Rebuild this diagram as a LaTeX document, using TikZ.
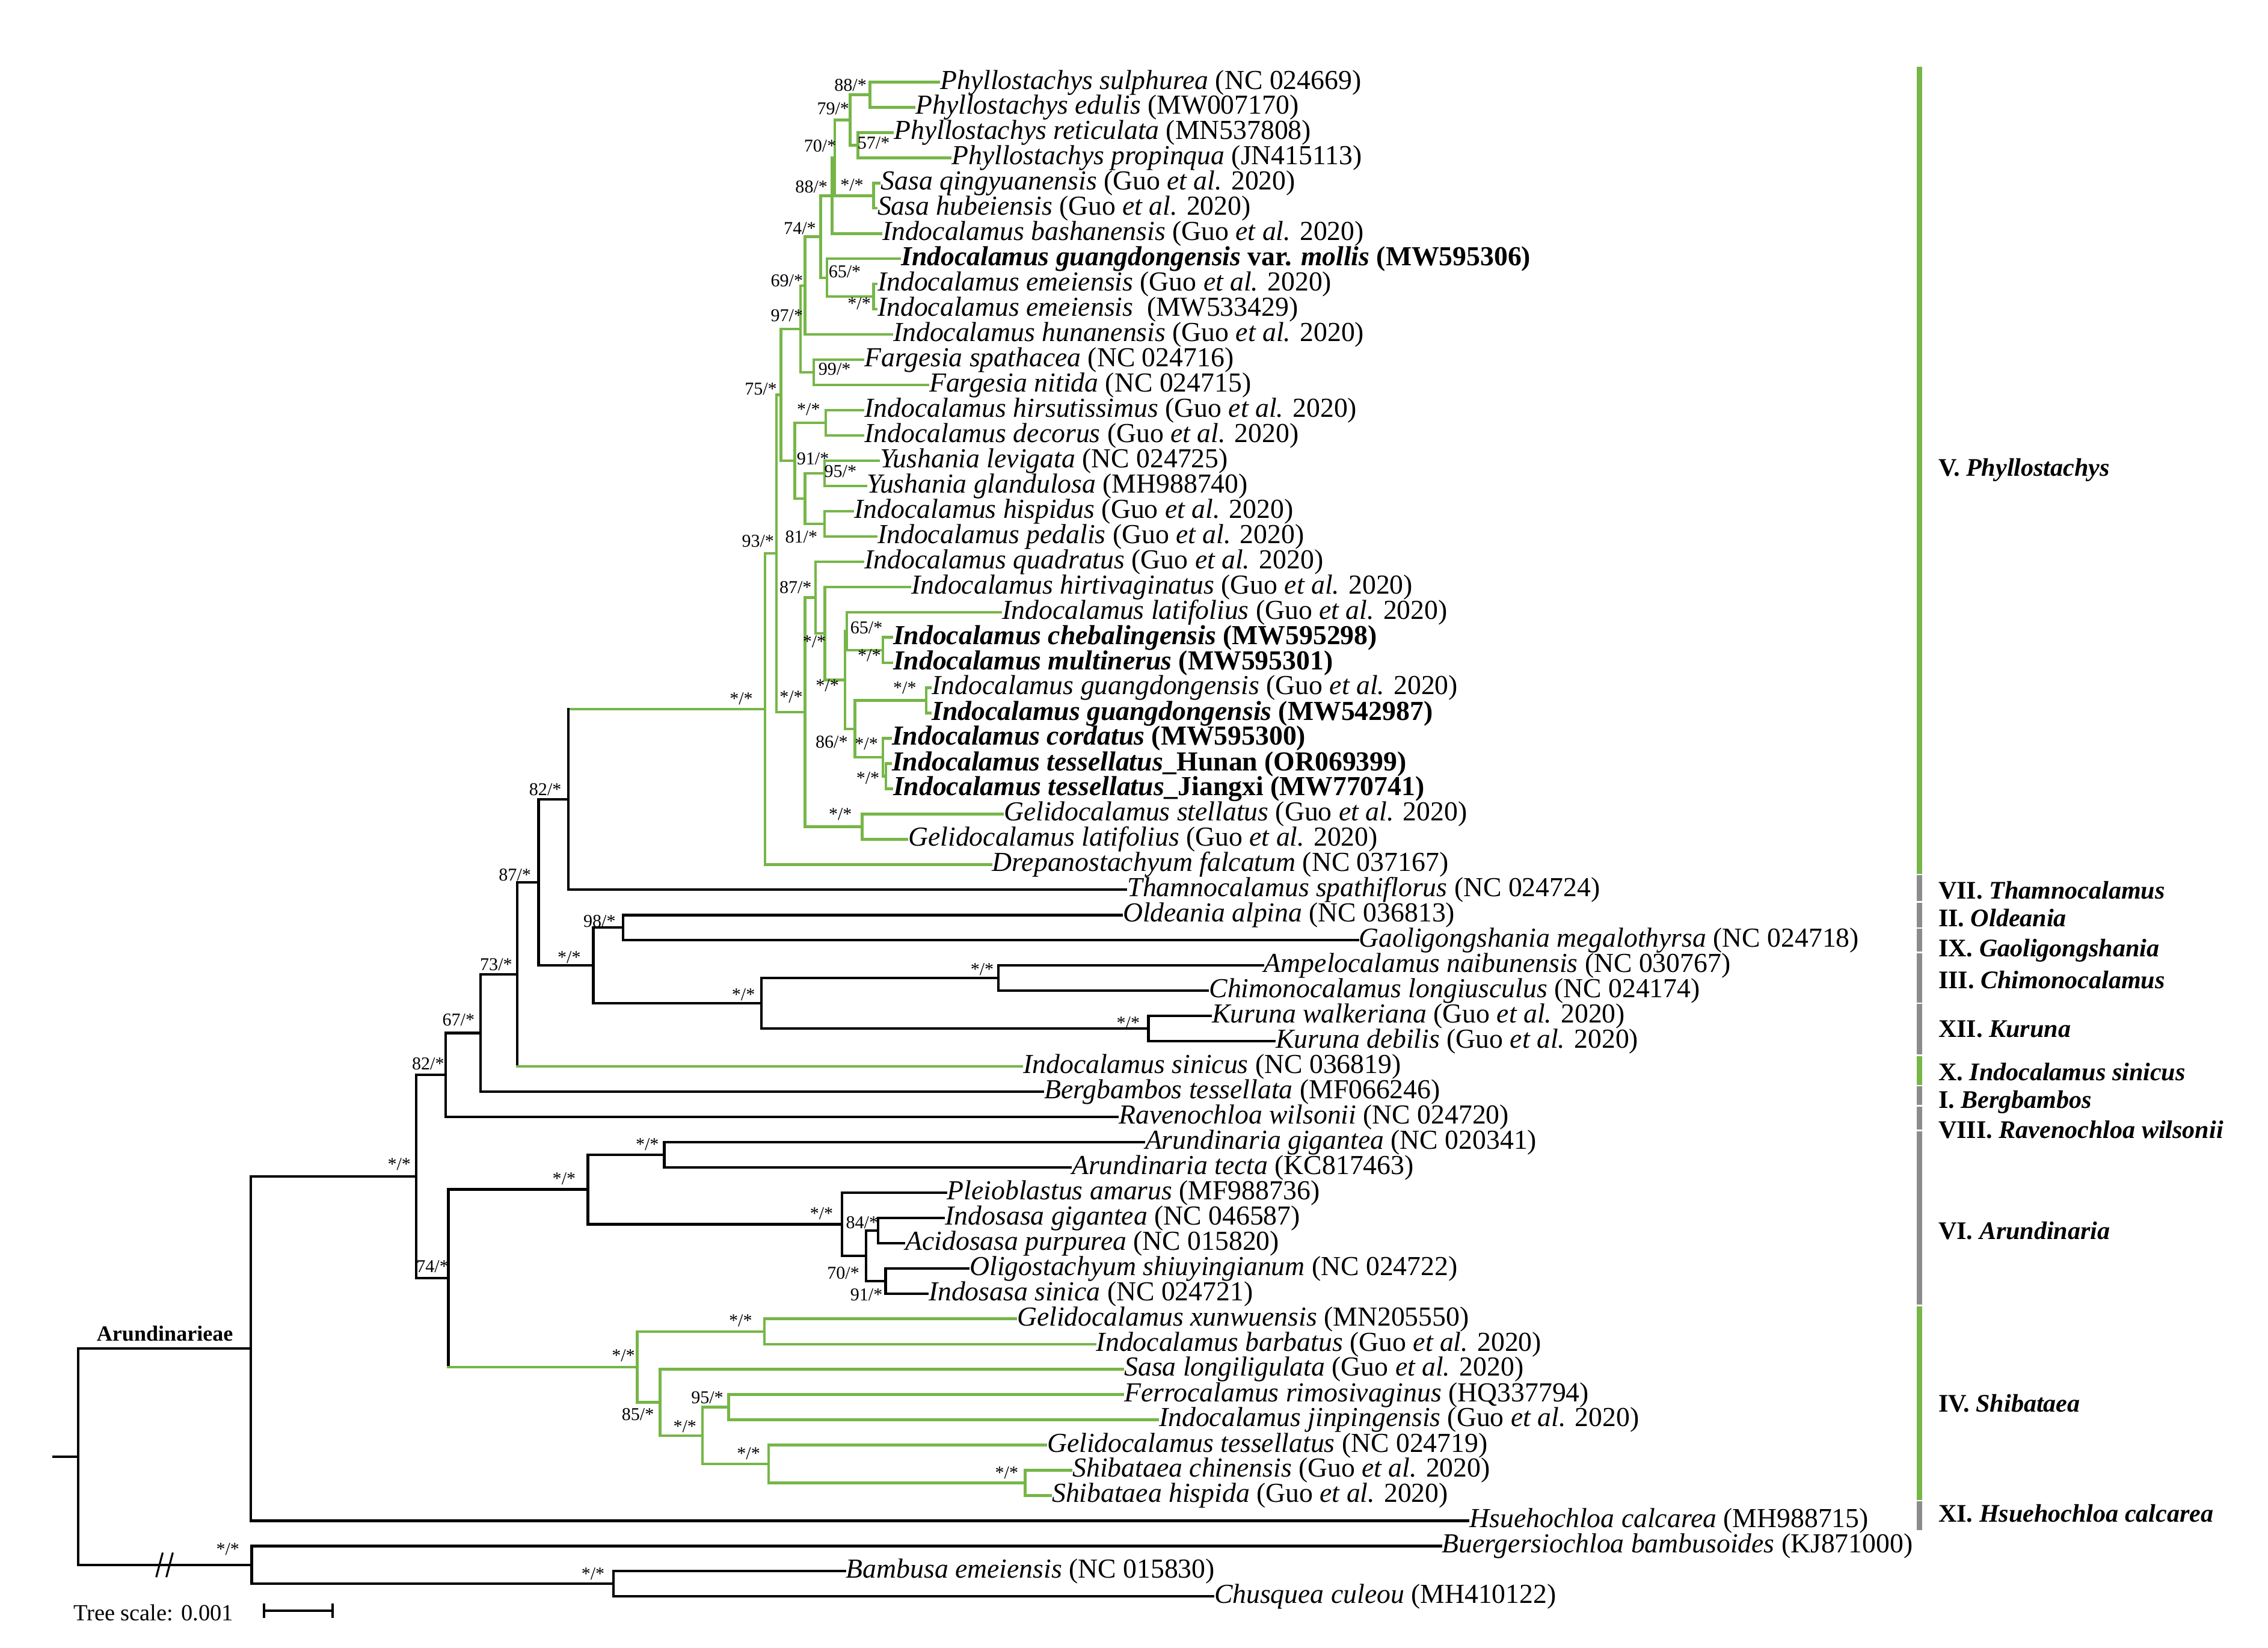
\documentclass[tikz,border=0pt]{standalone}
\usepackage{fontspec}
\setmainfont{Liberation Serif}
\usetikzlibrary{calc}
\definecolor{tgreen}{RGB}{118,182,72}
\definecolor{tgray}{RGB}{140,140,140}
\newcommand\GA{(Guo \textit{et al.} 2020)}
\newcommand\brc[3][br]{\draw[#1] (#2) |- (#3);}
\begin{document}
\begin{tikzpicture}[x=1pt,y=-1pt,line cap=rect,
 br/.style={line width=1.8pt,black},
 gb/.style={line width=1.8pt,tgreen},
 leaf/.style={anchor=west,inner ysep=0pt,inner xsep=0.8pt,font=\fontsize{19}{20}\selectfont,text height=13.7pt,text depth=4.2pt},
 bs/.style={inner sep=0pt,font=\fontsize{12.5}{13}\selectfont},
 clab/.style={anchor=west,inner sep=0pt,font=\fontsize{17.5}{18}\selectfont\bfseries,text height=12.5pt,text depth=3.8pt},
 cbar/.style={line width=3.8pt,line cap=butt}]
\fill[white] (0,0) rectangle (1568,1139);
\useasboundingbox (0,0) rectangle (1568,1139);

% ---------- leaves ----------
\node[leaf] (L1) at (649,56.8) {\textit{Phyllostachys sulphurea} (NC 024669)};
\node[leaf] (L2) at (632,74.2) {\textit{Phyllostachys edulis} (MW007170)};
\node[leaf] (L3) at (617,91.7) {\textit{Phyllostachys reticulata} (MN537808)};
\node[leaf] (L4) at (657,109.1) {\textit{Phyllostachys propinqua} (JN415113)};
\node[leaf] (L5) at (608,126.6) {\textit{Sasa qingyuanensis} \GA};
\node[leaf] (L6) at (605.7,144.0) {\textit{Sasa hubeiensis} \GA};
\node[leaf] (L7) at (609,161.5) {\textit{Indocalamus bashanensis} \GA};
\node[leaf] (L8) at (622,178.9) {\bfseries\textit{Indocalamus guangdongensis} var. \textit{mollis} (MW595306)};
\node[leaf] (L9) at (605.7,196.4) {\textit{Indocalamus emeiensis} \GA};
\node[leaf] (L10) at (605.7,213.8) {\textit{Indocalamus emeiensis}\ \ (MW533429)};
\node[leaf] (L11) at (616.5,231.3) {\textit{Indocalamus hunanensis} \GA};
\node[leaf] (L12) at (596.7,248.7) {\textit{Fargesia spathacea} (NC 024716)};
\node[leaf] (L13) at (641.5,266.1) {\textit{Fargesia nitida} (NC 024715)};
\node[leaf] (L14) at (596.7,283.6) {\textit{Indocalamus hirsutissimus} \GA};
\node[leaf] (L15) at (596.7,301.0) {\textit{Indocalamus decorus} \GA};
\node[leaf] (L16) at (607.5,318.5) {\textit{Yushania levigata} (NC 024725)};
\node[leaf] (L17) at (598.5,335.9) {\textit{Yushania glandulosa} (MH988740)};
\node[leaf] (L18) at (589.7,353.4) {\textit{Indocalamus hispidus} \GA};
\node[leaf] (L19) at (605.7,370.8) {\textit{Indocalamus pedalis} \GA};
\node[leaf] (L20) at (596.7,388.3) {\textit{Indocalamus quadratus} \GA};
\node[leaf] (L21) at (629,405.7) {\textit{Indocalamus hirtivaginatus} \GA};
\node[leaf] (L22) at (692,423.2) {\textit{Indocalamus latifolius} \GA};
\node[leaf] (L23) at (616.5,440.6) {\bfseries\textit{Indocalamus chebalingensis} (MW595298)};
\node[leaf] (L24) at (616.5,458.1) {\bfseries\textit{Indocalamus multinerus} (MW595301)};
\node[leaf] (L25) at (643.3,475.5) {\textit{Indocalamus guangdongensis} \GA};
\node[leaf] (L26) at (643.3,493.0) {\bfseries\textit{Indocalamus guangdongensis} (MW542987)};
\node[leaf] (L27) at (615.7,510.4) {\bfseries\textit{Indocalamus cordatus} (MW595300)};
\node[leaf] (L28) at (615.7,527.9) {\bfseries\textit{Indocalamus tessellatus}\_Hunan (OR069399)};
\node[leaf] (L29) at (616.5,545.3) {\bfseries\textit{Indocalamus tessellatus}\_Jiangxi (MW770741)};
\node[leaf] (L30) at (693,562.8) {\textit{Gelidocalamus stellatus} \GA};
\node[leaf] (L31) at (627,580.2) {\textit{Gelidocalamus latifolius} \GA};
\node[leaf] (L32) at (685,597.7) {\textit{Drepanostachyum falcatum} (NC 037167)};
\node[leaf] (L33) at (778.5,615.1) {\textit{Thamnocalamus spathiflorus} (NC 024724)};
\node[leaf] (L34) at (775.3,632.6) {\textit{Oldeania alpina} (NC 036813)};
\node[leaf] (L35) at (938.6,650.0) {\textit{Gaoligongshania megalothyrsa} (NC 024718)};
\node[leaf] (L36) at (873,667.5) {\textit{Ampelocalamus naibunensis} (NC 030767)};
\node[leaf] (L37) at (835,684.9) {\textit{Chimonocalamus longiusculus} (NC 024174)};
\node[leaf] (L38) at (837,702.3) {\textit{Kuruna walkeriana} \GA};
\node[leaf] (L39) at (881,719.8) {\textit{Kuruna debilis} \GA};
\node[leaf] (L40) at (706.4,737.2) {\textit{Indocalamus sinicus} (NC 036819)};
\node[leaf] (L41) at (721,754.7) {\textit{Bergbambos tessellata} (MF066246)};
\node[leaf] (L42) at (772.6,772.1) {\textit{Ravenochloa wilsonii} (NC 024720)};
\node[leaf] (L43) at (790.7,789.6) {\textit{Arundinaria gigantea} (NC 020341)};
\node[leaf] (L44) at (740,807.0) {\textit{Arundinaria tecta} (KC817463)};
\node[leaf] (L45) at (653.8,824.5) {\textit{Pleioblastus amarus} (MF988736)};
\node[leaf] (L46) at (652.5,841.9) {\textit{Indosasa gigantea} (NC 046587)};
\node[leaf] (L47) at (625,859.4) {\textit{Acidosasa purpurea} (NC 015820)};
\node[leaf] (L48) at (669.5,876.8) {\textit{Oligostachyum shiuyingianum} (NC 024722)};
\node[leaf] (L49) at (641,894.3) {\textit{Indosasa sinica} (NC 024721)};
\node[leaf] (L50) at (702.2,911.7) {\textit{Gelidocalamus xunwuensis} (MN205550)};
\node[leaf] (L51) at (757,929.2) {\textit{Indocalamus barbatus} \GA};
\node[leaf] (L52) at (776.3,946.6) {\textit{Sasa longiligulata} \GA};
\node[leaf] (L53) at (776.3,964.1) {\textit{Ferrocalamus rimosivaginus} (HQ337794)};
\node[leaf] (L54) at (800.3,981.5) {\textit{Indocalamus jinpingensis} \GA};
\node[leaf] (L55) at (723,999.0) {\textit{Gelidocalamus tessellatus} (NC 024719)};
\node[leaf] (L56) at (740.6,1016.4) {\textit{Shibataea chinensis} \GA};
\node[leaf] (L57) at (726.3,1033.9) {\textit{Shibataea hispida} \GA};
\node[leaf] (L58) at (1015,1051.3) {\textit{Hsuehochloa calcarea} (MH988715)};
\node[leaf] (L59) at (996,1068.8) {\textit{Buergersiochloa bambusoides} (KJ871000)};
\node[leaf] (L60) at (584,1086.2) {\textit{Bambusa emeiensis} (NC 015830)};
\node[leaf] (L61) at (838.5,1103.6) {\textit{Chusquea culeou} (MH410122)};

% ---------- internal nodes ----------
\coordinate (A) at (601.4,65.5);
\coordinate (B) at (593.2,100.4);
\coordinate (C) at (587.8,82.95);
\coordinate (D) at (603.9,135.3);
\coordinate (E) at (577.1,109.1);
\coordinate (Q) at (575.3,135.3);
\coordinate (M2) at (603.9,205.1);
\coordinate (M) at (571.7,192.0);
\coordinate (V7) at (567.4,163.65);
\coordinate (V6) at (556.5,197.5);
\coordinate (F) at (562.7,257.4);
\coordinate (V4) at (553.5,227.45);
\coordinate (H) at (571,292.3);
\coordinate (Y) at (570,327.2);
\coordinate (P) at (570,362.1);
\coordinate (V8) at (556.5,344.65);
\coordinate (V5) at (549.5,318.5);
\coordinate (V2) at (539.9,273.0);
\coordinate (V14) at (610.5,449.35);
\coordinate (V12) at (585.5,436.3);
\coordinate (G2) at (640.3,484.25);
\coordinate (V16) at (612.5,536.6);
\coordinate (V15) at (610.5,523.5);
\coordinate (V13) at (591,503.9);
\coordinate (V11) at (584.2,470.1);
\coordinate (V10) at (570.3,437.9);
\coordinate (V9) at (563.8,413.1);
\coordinate (GL) at (596,571.5);
\coordinate (V3) at (556.5,492.3);
\coordinate (V1) at (536.7,382.65);
\coordinate (VR) at (528.8,490.2);
\coordinate (N7) at (392.8,552.65);
\coordinate (N9) at (430.7,641.3);
\coordinate (N11) at (690.2,676.2);
\coordinate (N12) at (794,711.05);
\coordinate (N10) at (526.4,693.6);
\coordinate (N8) at (410.2,667.45);
\coordinate (N6) at (372.4,610.05);
\coordinate (N5) at (357.5,673.6);
\coordinate (N4) at (332.3,714.15);
\coordinate (N2) at (308.2,743.1);
\coordinate (N14) at (459.2,798.3);
\coordinate (N17) at (607,850.65);
\coordinate (N18) at (612.2,885.55);
\coordinate (N16) at (598.7,868.1);
\coordinate (N15) at (582,846.3);
\coordinate (N13) at (406.5,822.3);
\coordinate (S1) at (528.5,920.45);
\coordinate (S4) at (503.7,972.8);
\coordinate (S6) at (708.7,1025.15);
\coordinate (S5) at (531.3,1012.1);
\coordinate (S3) at (485.7,992.45);
\coordinate (S2) at (456.4,969.5);
\coordinate (S0) at (440.5,945.0);
\coordinate (N3) at (310,883.65);
\coordinate (N1) at (287.7,813.4);
\coordinate (AR) at (173.5,932.35);
\coordinate (BC) at (424,1094.9);
\coordinate (OG) at (174,1081.85);
\coordinate (R) at (54,1007.1);
\coordinate (R0) at (37,1007.1);

% ---------- V clade (green) ----------
\brc[gb]{A}{L1.west}\brc[gb]{A}{L2.west}
\brc[gb]{B}{L3.west}\brc[gb]{B}{L4.west}
\brc[gb]{C}{A}\brc[gb]{C}{B}
\brc[gb]{D}{L5.west}\brc[gb]{D}{L6.west}
\brc[gb]{E}{C}\brc[gb]{E}{D}
\brc[gb]{Q}{E}\brc[gb]{Q}{L7.west}
\brc[gb]{M2}{L9.west}\brc[gb]{M2}{L10.west}
\brc[gb]{M}{L8.west}\brc[gb]{M}{M2}
\brc[gb]{V7}{Q}\brc[gb]{V7}{M}
\brc[gb]{V6}{V7}\brc[gb]{V6}{L11.west}
\brc[gb]{F}{L12.west}\brc[gb]{F}{L13.west}
\brc[gb]{V4}{V6}\brc[gb]{V4}{F}
\brc[gb]{H}{L14.west}\brc[gb]{H}{L15.west}
\brc[gb]{Y}{L16.west}\brc[gb]{Y}{L17.west}
\brc[gb]{P}{L18.west}\brc[gb]{P}{L19.west}
\brc[gb]{V8}{Y}\brc[gb]{V8}{P}
\brc[gb]{V5}{H}\brc[gb]{V5}{V8}
\brc[gb]{V2}{V4}\brc[gb]{V2}{V5}
\brc[gb]{V14}{L23.west}\brc[gb]{V14}{L24.west}
\brc[gb]{V12}{L22.west}\brc[gb]{V12}{V14}
\brc[gb]{G2}{L25.west}\brc[gb]{G2}{L26.west}
\brc[gb]{V16}{L28.west}\brc[gb]{V16}{L29.west}
\brc[gb]{V15}{L27.west}\brc[gb]{V15}{V16}
\brc[gb]{V13}{G2}\brc[gb]{V13}{V15}
\brc[gb]{V11}{V12}\brc[gb]{V11}{V13}
\brc[gb]{V10}{L21.west}\brc[gb]{V10}{V11}
\brc[gb]{V9}{L20.west}\brc[gb]{V9}{V10}
\brc[gb]{GL}{L30.west}\brc[gb]{GL}{L31.west}
\brc[gb]{V3}{V9}\brc[gb]{V3}{GL}
\brc[gb]{V1}{V2}\brc[gb]{V1}{V3}
\brc[gb]{VR}{V1}\brc[gb]{VR}{L32.west}
\draw[gb] (N7 |- VR) -- (VR);
\draw[br] (N7) -- (N7 |- VR);
\brc{N7}{L33.west}

% ---------- black backbone ----------
\brc{N9}{L34.west}\brc{N9}{L35.west}
\brc{N11}{L36.west}\brc{N11}{L37.west}
\brc{N12}{L38.west}\brc{N12}{L39.west}
\brc{N10}{N11}\brc{N10}{N12}
\brc{N8}{N9}\brc{N8}{N10}
\brc{N6}{N7}\brc{N6}{N8}
\brc{N5}{N6}
\draw[br] (N5) -- (N5 |- L40.west);
\draw[gb] (N5 |- L40.west) -- (L40.west);
\brc{N4}{N5}\brc{N4}{L41.west}
\brc{N2}{N4}\brc{N2}{L42.west}
\brc{N14}{L43.west}\brc{N14}{L44.west}
\brc{N17}{L46.west}\brc{N17}{L47.west}
\brc{N18}{L48.west}\brc{N18}{L49.west}
\brc{N16}{N17}\brc{N16}{N18}
\brc{N15}{L45.west}\brc{N15}{N16}
\brc{N13}{N14}\brc{N13}{N15}
% Shibataea clade (green)
\brc[gb]{S1}{L50.west}\brc[gb]{S1}{L51.west}
\brc[gb]{S4}{L53.west}\brc[gb]{S4}{L54.west}
\brc[gb]{S6}{L56.west}\brc[gb]{S6}{L57.west}
\brc[gb]{S5}{L55.west}\brc[gb]{S5}{S6}
\brc[gb]{S3}{S4}\brc[gb]{S3}{S5}
\brc[gb]{S2}{L52.west}\brc[gb]{S2}{S3}
\brc[gb]{S0}{S1}\brc[gb]{S0}{S2}
\brc{N3}{N13}
\draw[br] (N3) -- (N3 |- S0);
\draw[gb] (N3 |- S0) -- (S0);
\brc{N1}{N2}\brc{N1}{N3}
\brc{AR}{N1}\brc{AR}{L58.west}
\brc{BC}{L60.west}\brc{BC}{L61.west}
\brc{OG}{L59.west}\brc{OG}{BC}
\brc{R}{AR}\brc{R}{OG}
\draw[br] (R0) -- (R);
% break mark
\coordinate (brk) at (114,1081.85);
\draw[line width=1.3pt,line cap=butt] ($(brk)+(-6,8.5)$) -- ($(brk)+(-1.5,-8.5)$);
\draw[line width=1.3pt,line cap=butt] ($(brk)+(1,8.5)$) -- ($(brk)+(5.5,-8.5)$);

% ---------- support values ----------
\node[bs] (lA) at (588,59) {88/*};
\node[bs] (lC) at (576,75) {79/*};
\node[bs] (lE) at (567,101) {70/*};
\node[bs] (lB) at (604,99) {57/*};
\node[bs] (lQ) at (561,129) {88/*};
\node[bs] (lD) at (589,128) {*/*};
\node[bs] (lV7) at (553,158) {74/*};
\node[bs] (lM) at (584,188) {65/*};
\node[bs] (lV6) at (544,194) {69/*};
\node[bs] (lM2) at (594,210) {*/*};
\node[bs] (lV4) at (544,218) {97/*};
\node[bs] (lF) at (577,255) {99/*};
\node[bs] (lV2) at (526,269) {75/*};
\node[bs] (lH) at (559,283) {*/*};
\node[bs] (lV8) at (562,317) {91/*};
\node[bs] (lY) at (581,326) {95/*};
\node[bs] (lP) at (554,371) {81/*};
\node[bs] (lV1) at (524,374) {93/*};
\node[bs] (lV9) at (550,406) {87/*};
\node[bs] (lV12) at (599,434) {65/*};
\node[bs] (lV10) at (563,443.5) {*/*};
\node[bs] (lV14) at (601,453) {*/*};
\node[bs] (lV11) at (572,474) {*/*};
\node[bs] (lG2) at (625.5,475.5) {*/*};
\node[bs] (lV3) at (547,482) {*/*};
\node[bs] (lVR) at (512.5,483) {*/*};
\node[bs] (lV13) at (575,513) {86/*};
\node[bs] (lV15) at (599,514.4) {*/*};
\node[bs] (lV16) at (600,538) {*/*};
\node[bs] (lGL) at (581,563) {*/*};
\node[bs] (lN7) at (377,546) {82/*};
\node[bs] (lN6) at (356,605) {87/*};
\node[bs] (lN9) at (414.5,637) {98/*};
\node[bs] (lN8) at (393.5,662) {*/*};
\node[bs] (lN5) at (343,667) {73/*};
\node[bs] (lN11) at (679,670) {*/*};
\node[bs] (lN10) at (514,687.5) {*/*};
\node[bs] (lN4) at (317,705) {67/*};
\node[bs] (lN12) at (780,707) {*/*};
\node[bs] (lN2) at (296,735.5) {82/*};
\node[bs] (lN14) at (447.5,791) {*/*};
\node[bs] (lN1) at (276,805) {*/*};
\node[bs] (lN13) at (390,815) {*/*};
\node[bs] (lN15) at (568,839) {*/*};
\node[bs] (lN17) at (596,845) {84/*};
\node[bs] (lN3) at (299,875.5) {74/*};
\node[bs] (lN16) at (583,880) {70/*};
\node[bs] (lN18) at (599,895) {91/*};
\node[bs] (lS1) at (512,913) {*/*};
\node[bs] (lS0) at (431,937) {*/*};
\node[bs] (lS4) at (489,966) {95/*};
\node[bs] (lS2) at (441,978) {85/*};
\node[bs] (lS3) at (473.5,986) {*/*};
\node[bs] (lS5) at (517.5,1005) {*/*};
\node[bs] (lS6) at (696,1018) {*/*};
\node[bs] (lOG) at (157.5,1071) {*/*};
\node[bs] (lBC) at (410,1088) {*/*};

\node[inner sep=0pt,font=\fontsize{15}{16}\selectfont\bfseries] (arun) at (114,922) {Arundinarieae};

% ---------- scale ----------
\node[inner sep=0pt,font=\fontsize{16}{17}\selectfont] (tscale) at (106,1115) {Tree scale: 0.001};
\coordinate (sb1) at (182.6,1113.5);
\coordinate (sb2) at (230,1113.5);
\draw[br,line cap=butt] (sb1) -- (sb2);
\draw[br,line cap=butt] ($(sb1)+(0,-5)$) -- ($(sb1)+(0,5)$);
\draw[br,line cap=butt] ($(sb2)+(0,-5)$) -- ($(sb2)+(0,5)$);

% ---------- clade bars ----------
\draw[cbar,tgreen] (1327,46) -- (1327,604);
\draw[cbar,tgray] (1327,605) -- (1327,623);
\draw[cbar,tgray] (1327,624) -- (1327,641);
\draw[cbar,tgray] (1327,642) -- (1327,658);
\draw[cbar,tgray] (1327,659) -- (1327,693);
\draw[cbar,tgray] (1327,694) -- (1327,729);
\draw[cbar,tgreen] (1327,730) -- (1327,750);
\draw[cbar,tgray] (1327,751) -- (1327,764);
\draw[cbar,tgray] (1327,765) -- (1327,781);
\draw[cbar,tgray] (1327,782) -- (1327,902);
\draw[cbar,tgreen] (1327,903) -- (1327,1037);
\draw[cbar,tgray] (1327,1038) -- (1327,1058);

\node[clab] (cV) at (1340,324.7) {V. \textit{Phyllostachys}};
\node[clab] (cVII) at (1340,617) {VII. \textit{Thamnocalamus}};
\node[clab] (cII) at (1340,636) {II. \textit{Oldeania}};
\node[clab] (cIX) at (1340,657) {IX. \textit{Gaoligongshania}};
\node[clab] (cIII) at (1340,679) {III. \textit{Chimonocalamus}};
\node[clab] (cXII) at (1340,712.6) {XII. \textit{Kuruna}};
\node[clab] (cX) at (1340,742.7) {X. \textit{Indocalamus sinicus}};
\node[clab] (cI) at (1340,761.8) {I. \textit{Bergbambos}};
\node[clab] (cVIII) at (1340,782.6) {VIII. \textit{Ravenochloa wilsonii}};
\node[clab] (cVI) at (1340,852.5) {VI. \textit{Arundinaria}};
\node[clab] (cIV) at (1340,971.7) {IV. \textit{Shibataea}};
\node[clab] (cXI) at (1340,1048) {XI. \textit{Hsuehochloa calcarea}};
\end{tikzpicture}
\end{document}
